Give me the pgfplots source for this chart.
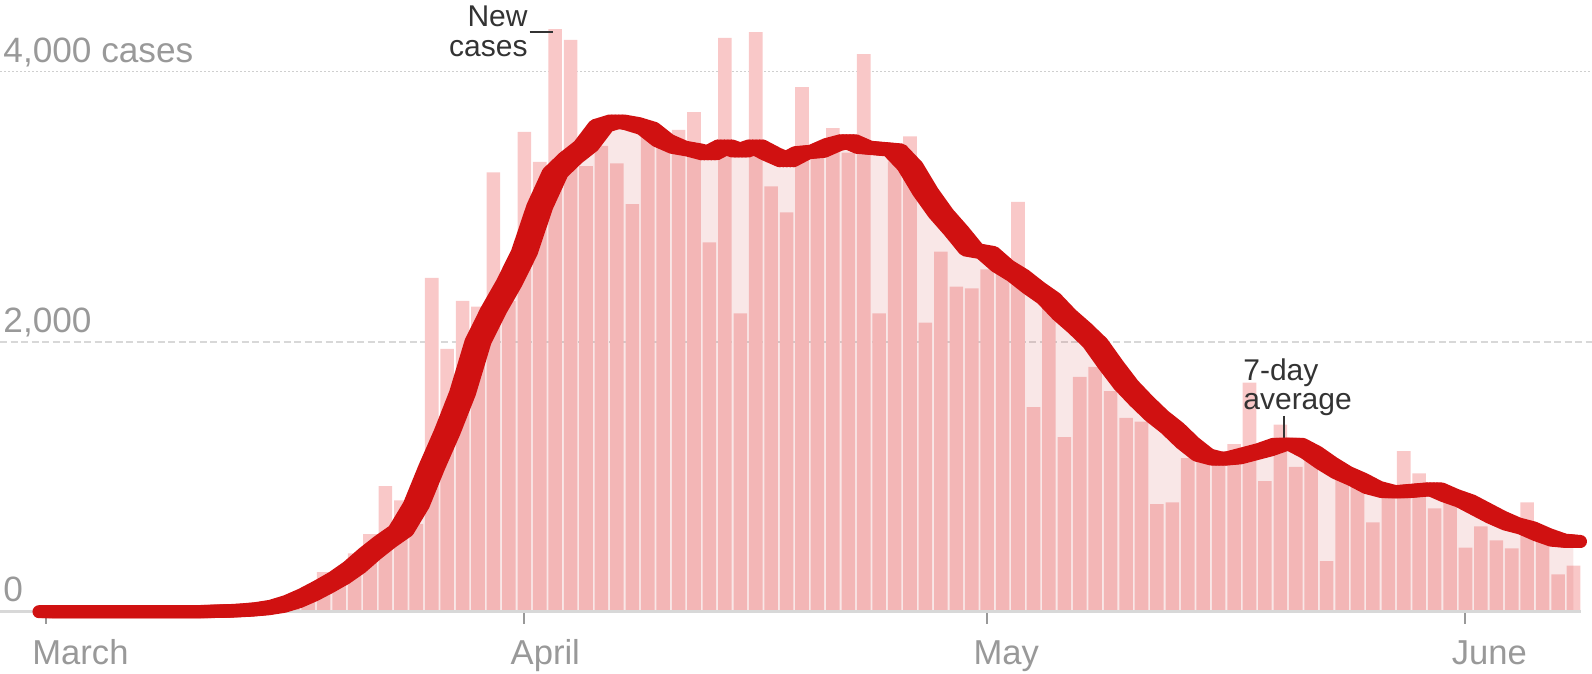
\documentclass[border=0pt]{standalone}
\usepackage{pgfplots}
\pgfplotsset{compat=1.18}
\usepackage{pgfplotstable}
\usepackage{fontspec}
\setmainfont{Liberation Sans}
\definecolor{barcol}{RGB}{249,200,200}
\definecolor{areacol}{RGB}{200,40,40}
\definecolor{linecol}{RGB}{208,17,17}
\definecolor{tickgray}{RGB}{153,153,153}
\definecolor{gridgray}{RGB}{216,216,216}
\definecolor{annot}{RGB}{51,51,51}

\pgfplotstableread{
day cases
12 10
13 15
14 25
15 50
16 90
17 150
18 293
19 200
20 432
21 574
22 930
23 824
24 650
25 2473
26 1947
27 2303
28 2260
29 3255
30 2300
31 3554
32 3332
33 4316
34 4236
35 3300
36 3450
37 3321
38 3019
39 3580
40 3450
41 3568
42 3701
43 2735
44 4250
45 2209
46 4293
47 3150
48 2957
49 3886
50 3360
51 3582
52 3400
53 4130
54 2209
55 3335
56 3520
57 2141
58 2667
59 2408
60 2394
61 2536
62 2524
63 3036
64 1515
65 2288
66 1294
67 1740
68 1814
69 1634
70 1436
71 1407
72 796
73 810
74 1137
75 1120
76 1094
77 1242
78 1697
79 967
80 1385
81 1072
82 1180
83 375
84 1050
85 924
86 662
87 860
88 1190
89 1025
90 765
91 830
92 475
93 632
94 528
95 469
96 810
97 540
98 277
99 341
}\bars

\pgfplotstableread{
day avg
0 0
1 0
2 0
3 0
4 0
5 0
6 0
7 0
8 0
9 0
10 0
11 3
12 6
13 12
14 22
15 40
16 75
17 125
18 185
19 250
20 330
21 430
22 520
23 600
24 790
25 1070
26 1330
27 1620
28 2000
29 2230
30 2430
31 2660
32 3000
33 3250
34 3360
35 3450
36 3600
37 3635
38 3615
39 3580
40 3490
41 3440
42 3420
43 3390
44 3450
45 3410
46 3450
47 3390
48 3340
49 3400
50 3410
51 3460
52 3490
53 3440
54 3430
55 3420
56 3300
57 3110
58 2950
59 2820
60 2680
61 2660
62 2560
63 2490
64 2400
65 2320
66 2200
67 2100
68 1990
69 1830
70 1680
71 1560
72 1450
73 1360
74 1250
75 1160
76 1130
77 1140
78 1170
79 1200
80 1240
81 1240
82 1180
83 1100
84 1030
85 980
86 920
87 890
88 890
89 900
90 910
91 860
92 820
93 760
94 700
95 650
96 620
97 570
98 530
99 520
}\avgtab

\begin{document}
\begin{tikzpicture}
\begin{axis}[
  scale only axis, width=796pt, height=305.85pt,
  xmin=-2.98, xmax=100.2, ymin=0, ymax=4531,
  clip=false,
  axis line style={draw=none},
  ytick=\empty,
  xtick={0,31,61,92},
  xticklabels={March,April,May,June},
  xtick pos=bottom, xtick align=outside,
  major tick length=6pt,
  tick style={color=tickgray, line width=1pt},
  xticklabel style={anchor=base west, inner sep=0pt, xshift=-7pt, yshift=-20.65pt, text=tickgray, font=\fontsize{17.3pt}{17.3pt}\selectfont},
]
% grid lines
\addplot[gridgray!90!gray, line width=0.5pt, dash pattern=on 1pt off 1pt] coordinates {(-2.98,4000) (100.2,4000)};
\addplot[gridgray, line width=1pt, dash pattern=on 3.5pt off 1.75pt] coordinates {(-2.98,2000) (100.2,2000)};
% bars
\addplot[ybar, bar width=0.88, fill=barcol, draw=none] table[x=day,y=cases] {\bars};
% shaded area under the average
\addplot[fill=areacol, fill opacity=0.11, draw=none] table[x=day,y=avg] {\avgtab} \closedcycle;
% baseline
\addplot[gridgray, line width=1.5pt] coordinates {(-2.98,0) (99.5,0)};
% y labels
\node[anchor=base west, inner sep=0pt, text=tickgray, font=\fontsize{17.6pt}{17.6pt}\selectfont] at (axis cs:-2.78,4067) {4,000 cases};
\node[anchor=base west, inner sep=0pt, text=tickgray, font=\fontsize{17.6pt}{17.6pt}\selectfont] at (axis cs:-2.78,2067) {2,000};
\node[anchor=base west, inner sep=0pt, text=tickgray, font=\fontsize{17.6pt}{17.6pt}\selectfont] at (axis cs:-2.78,72) {0};
% annotations
\node[anchor=base east, inner sep=0pt, text=annot, font=\fontsize{15pt}{15pt}\selectfont] at (axis cs:31.24,4331) {New};
\node[anchor=base east, inner sep=0pt, text=annot, font=\fontsize{15pt}{15pt}\selectfont] at (axis cs:31.24,4109) {cases};
\draw[annot, line width=0.75pt] (axis cs:31.35,4294) -- (axis cs:32.86,4294);
\node[anchor=base west, inner sep=0pt, text=annot, font=\fontsize{15pt}{15pt}\selectfont] at (axis cs:77.58,1716) {7-day};
\node[anchor=base west, inner sep=0pt, text=annot, font=\fontsize{15pt}{15pt}\selectfont] at (axis cs:77.58,1494) {average};
\draw[annot, line width=0.75pt] (axis cs:80.23,1450) -- (axis cs:80.23,1270);
% 7-day average line (brush-like)
\addplot[linecol, line width=6.5pt, line cap=round, line join=round, xshift=-3.5pt] table[x=day,y=avg] {\avgtab};
\addplot[linecol, line width=6.5pt, line cap=round, line join=round, xshift=-1.75pt] table[x=day,y=avg] {\avgtab};
\addplot[linecol, line width=6.5pt, line cap=round, line join=round] table[x=day,y=avg] {\avgtab};
\addplot[linecol, line width=6.5pt, line cap=round, line join=round, xshift=1.75pt] table[x=day,y=avg] {\avgtab};
\addplot[linecol, line width=6.5pt, line cap=round, line join=round, xshift=3.5pt] table[x=day,y=avg] {\avgtab};
\end{axis}
\pgfresetboundingbox
\useasboundingbox (0,-31.15pt) rectangle (796pt,305.85pt);
\end{tikzpicture}
\end{document}
